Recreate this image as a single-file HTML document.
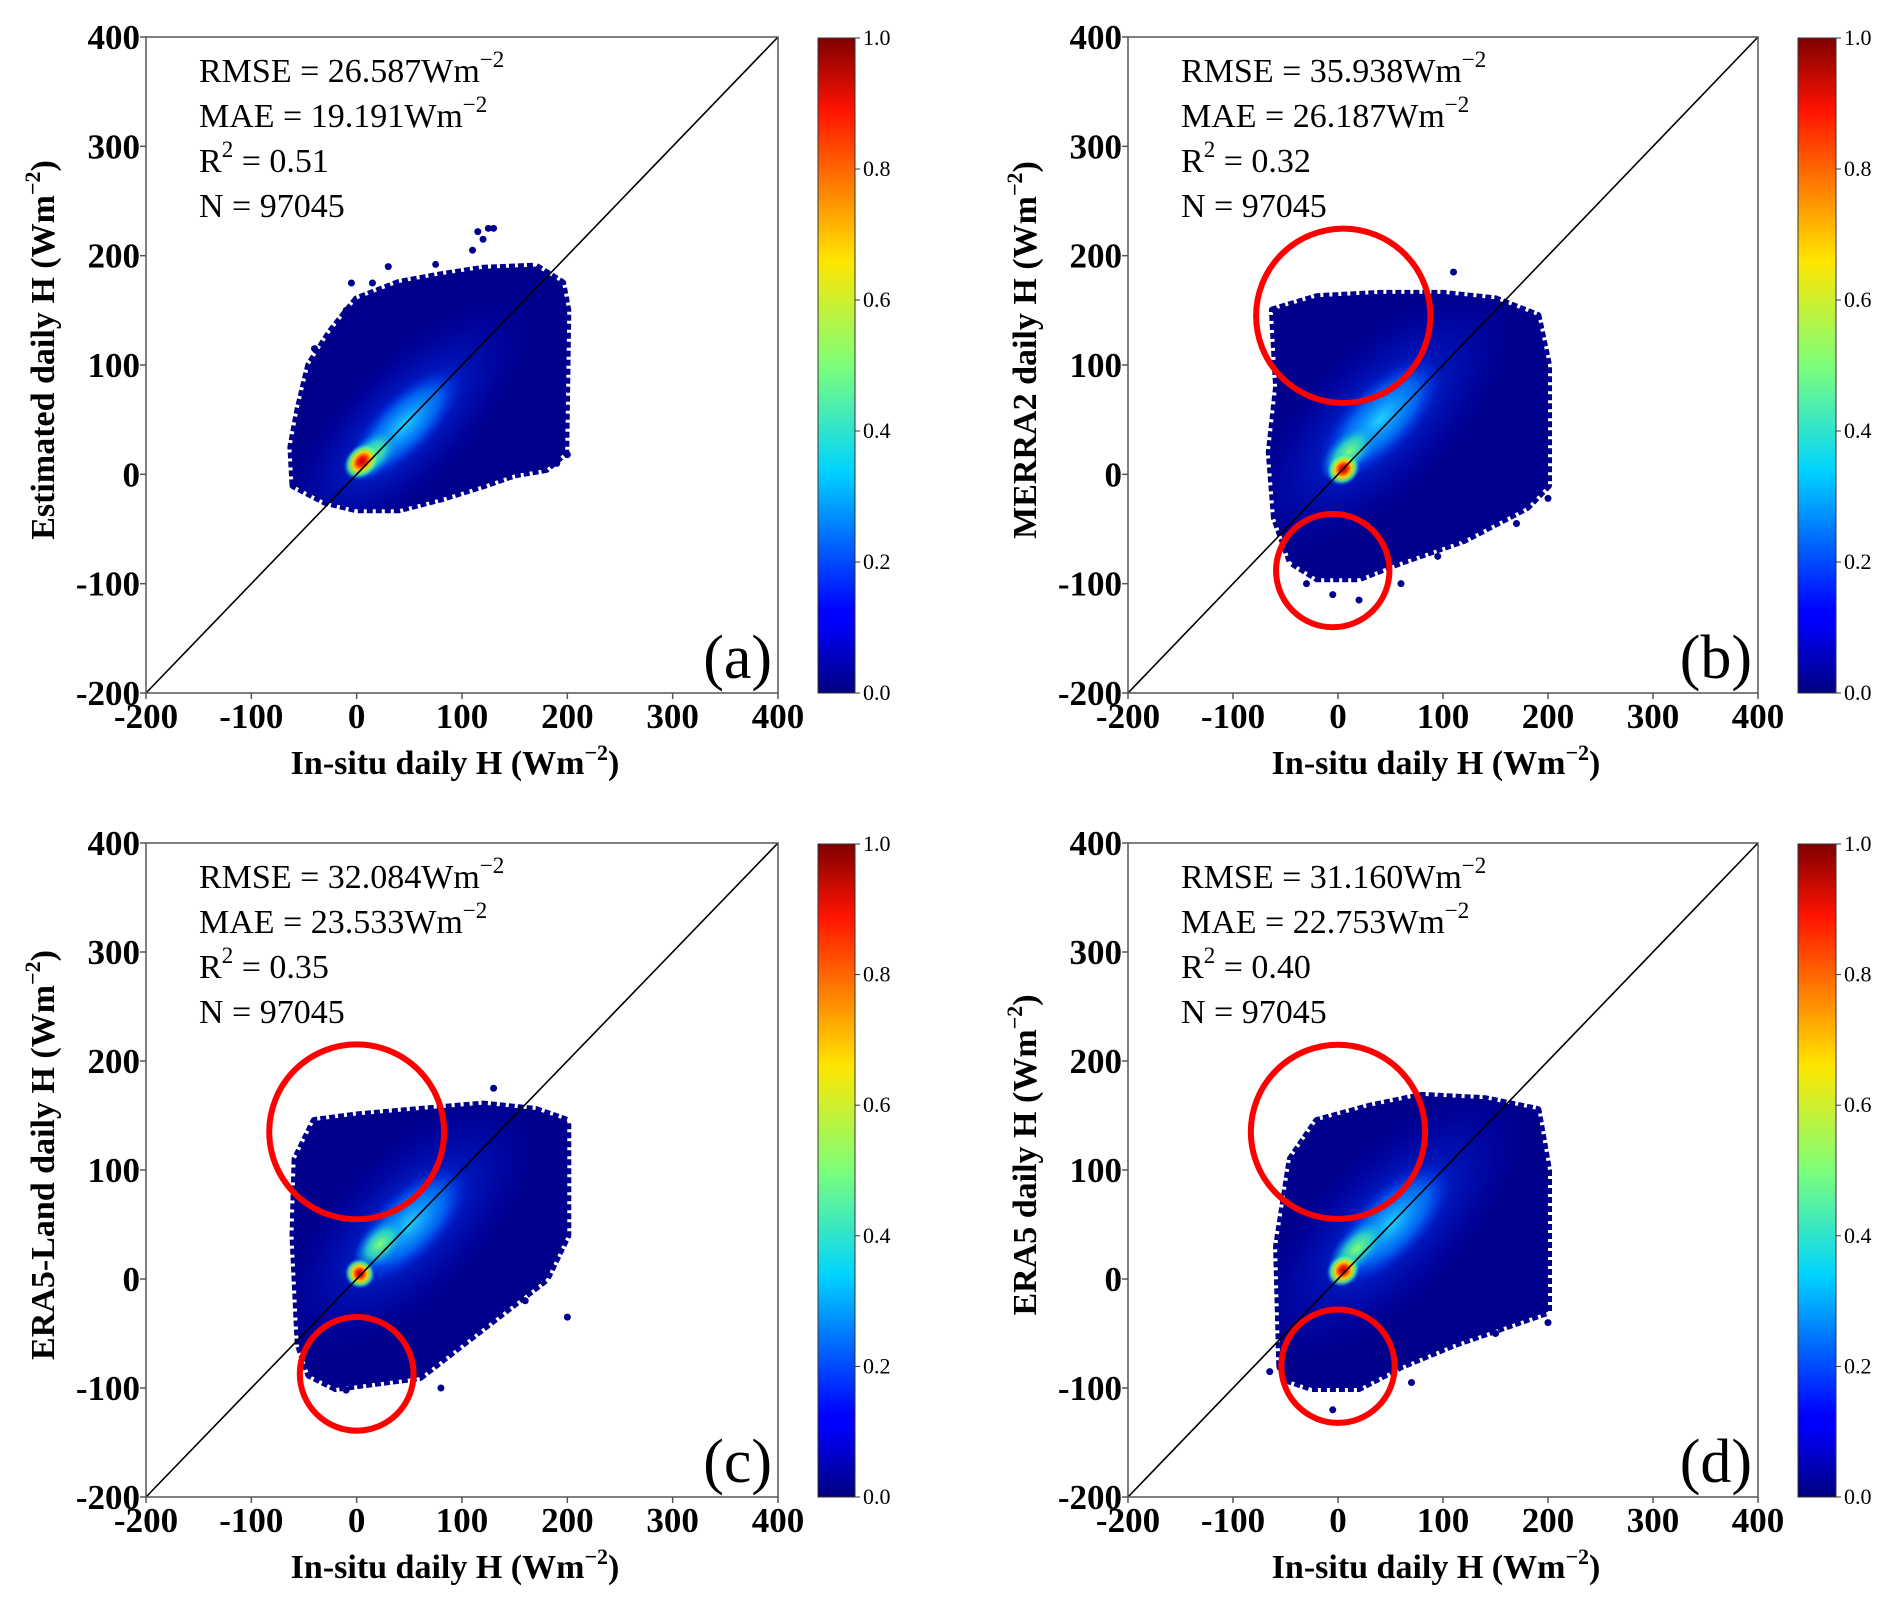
<!DOCTYPE html>
<html><head><meta charset="utf-8">
<style>
html,body{margin:0;padding:0;background:#fff;}
svg{display:block;}
.tick{font-family:"Liberation Serif",serif;font-weight:bold;font-size:35px;fill:#000;}
.title{font-family:"Liberation Serif",serif;font-weight:bold;font-size:34px;fill:#000;}
.stat{font-family:"Liberation Serif",serif;font-size:34px;fill:#000;}
.cb{font-family:"Liberation Serif",serif;font-size:22px;fill:#000;}
.plab{font-family:"Liberation Serif",serif;font-size:62px;fill:#000;}
</style></head>
<body>
<svg id="fig" width="1892" height="1610" viewBox="0 0 1892 1610" xmlns="http://www.w3.org/2000/svg">
<defs>
<linearGradient id="jet" x1="0" y1="1" x2="0" y2="0">
<stop offset="0" stop-color="#00007f"/><stop offset="0.11" stop-color="#0000ff"/>
<stop offset="0.125" stop-color="#0000ff"/><stop offset="0.34" stop-color="#00d4ff"/>
<stop offset="0.5" stop-color="#7dff7a"/><stop offset="0.66" stop-color="#ffe600"/>
<stop offset="0.89" stop-color="#ff1300"/><stop offset="1" stop-color="#7f0000"/>
</linearGradient>
<radialGradient id="glowBlue"><stop offset="0" stop-color="#0050ff" stop-opacity="0.9"/><stop offset="1" stop-color="#0000c8" stop-opacity="0"/></radialGradient>
<radialGradient id="glowCyan"><stop offset="0" stop-color="#20d0ff"/><stop offset="0.6" stop-color="#0080ff" stop-opacity="0.7"/><stop offset="1" stop-color="#0030ff" stop-opacity="0"/></radialGradient>
<radialGradient id="glowHot"><stop offset="0" stop-color="#b00000"/><stop offset="0.25" stop-color="#ff2000"/><stop offset="0.5" stop-color="#ffd000"/><stop offset="0.75" stop-color="#60ff90" stop-opacity="0.8"/><stop offset="1" stop-color="#00c0ff" stop-opacity="0"/></radialGradient>
<radialGradient id="glowGreen"><stop offset="0" stop-color="#80ff70"/><stop offset="0.5" stop-color="#30e0c0" stop-opacity="0.8"/><stop offset="1" stop-color="#0080ff" stop-opacity="0"/></radialGradient>
</defs>
</svg>
<script>
// ---- data ----
const xTicks = [-200,-100,0,100,200,300,400];
const yTicks = [-200,-100,0,100,200,300,400];
const cbTicks = ["0.0","0.2","0.4","0.6","0.8","1.0"];
const panelLabels = ["(a)","(b)","(c)","(d)"];
const yTitles = ["Estimated daily H","MERRA2 daily H","ERA5-Land daily H","ERA5 daily H"];
const rmseVals = ["26.587","35.938","32.084","31.160"];
const maeVals = ["19.191","26.187","23.533","22.753"];
const r2Vals = ["0.51","0.32","0.35","0.40"];
const nVals = ["97045","97045","97045","97045"];
// cloud outlines (x,y) in data units
const cloudA = [[-60,-10],[-62,25],[-55,60],[-45,100],[-25,130],[0,160],[40,175],[80,182],[120,188],[170,190],[195,175],[200,150],[198,20],[180,5],[150,0],[120,-10],[80,-22],[40,-32],[0,-32],[-30,-25]];
const cloudB = [[-60,-40],[-65,20],[-58,80],[-62,150],[-20,162],[40,165],[100,165],[150,160],[190,145],[200,100],[200,-10],[180,-30],[120,-60],[60,-80],[20,-95],[-20,-95],[-45,-80]];
const cloudC = [[-55,-60],[-60,40],[-58,110],[-40,145],[0,150],[60,155],[120,160],[170,155],[200,145],[200,40],[180,0],[140,-30],[100,-60],[60,-90],[20,-95],[-20,-100],[-45,-88]];
const cloudD = [[-55,-80],[-58,30],[-45,110],[-20,145],[30,158],[80,168],[140,165],[190,155],[200,100],[200,-30],[170,-40],[110,-60],[60,-80],[20,-100],[-25,-100],[-50,-92]];
// density centers [x,y,rx,ry] in data units
const hotA = [[5,12,14,10]], greenA = [[15,18,25,14]], cyanA = [[45,45,80,30]];
const hotB = [[5,5,12,10]], greenB = [[10,20,28,14]], cyanB = [[40,50,85,35]];
const hotC = [[3,5,10,10]], greenC = [[22,32,25,14]], cyanC = [[50,50,80,35]];
const hotD = [[5,8,12,10]], greenD = [[18,28,30,14]], cyanD = [[50,50,85,35]];
// outlier points
const outA = [[115,222],[125,225],[130,225],[120,215],[110,205],[30,190],[75,192],[-40,115],[-10,150],[190,10],[200,18],[185,60],[170,40],[-5,175],[15,175]];
const outB = [[110,185],[60,-100],[-5,-110],[20,-115],[-30,-100],[120,-60],[150,-40],[200,-22],[95,-75],[-60,150],[170,-45]];
const outC = [[80,-100],[30,-80],[200,-35],[130,175],[190,30],[160,-20],[-10,-102]];
const outD = [[-5,-120],[70,-95],[200,-40],[100,-60],[150,-50],[190,20],[-65,-85]];
// red circles [cx, cy, r] in data units (x-scale)
const circB = [[5,145,83],[-5,-88,54]];
const circC = [[0,135,83],[0,-87,54]];
const circD = [[0,135,83],[0,-80,54]];

const clouds=[cloudA,cloudB,cloudC,cloudD];
const hots=[hotA,hotB,hotC,hotD], greens=[greenA,greenB,greenC,greenD], cyans=[cyanA,cyanB,cyanC,cyanD];
const outs=[outA,outB,outC,outD];
const circs=[[],circB,circC,circD];

const NS="http://www.w3.org/2000/svg";
const svg=document.getElementById('fig');
function mk(tag,attrs,parent){const e=document.createElementNS(NS,tag);for(const k in attrs)e.setAttribute(k,attrs[k]);(parent||svg).appendChild(e);return e;}

const panels=[{l:146,r:778,t:37,b:693,cl:818,cr:855},{l:1128,r:1758,t:37,b:693,cl:1798,cr:1836},
{l:146,r:778,t:843,b:1497,cl:818,cr:855},{l:1128,r:1758,t:843,b:1497,cl:1798,cr:1836}];

panels.forEach((p,i)=>{
  const g=mk('g',{});
  
  
  const sx=v=>p.l+(v+200)/600*(p.r-p.l);
  const sy=v=>p.b-(v+200)/600*(p.b-p.t);
  const kx=(p.r-p.l)/600, ky=(p.b-p.t)/600;
  const clip='clip'+i;
  const cp=mk('clipPath',{id:clip},g);
  const pts=clouds[i].map(d=>sx(d[0]).toFixed(1)+','+sy(d[1]).toFixed(1)).join(' ');
  mk('polygon',{points:pts},cp);
  const cloud=mk('polygon',{points:pts,fill:'#00008c',stroke:'#00008c','stroke-width':8,'stroke-linejoin':'round','stroke-dasharray':'6 3'},g);
  
  
  const inner=mk('g',{'clip-path':'url(#'+clip+')'},g);
  const ell=(arr,fill,sc)=>arr.forEach(d=>{
    const e=mk('ellipse',{cx:sx(d[0]),cy:sy(d[1]),rx:d[2]*kx*sc,ry:d[3]*ky*sc,fill:fill,transform:'rotate(-45 '+sx(d[0])+' '+sy(d[1])+')'},inner);
    
    
  });
  ell(cyans[i],'url(#glowBlue)',2.0);
  ell(cyans[i],'url(#glowCyan)',0.9);
  ell(greens[i],'url(#glowGreen)',1.2);
  ell(hots[i],'url(#glowHot)',1.4);
  outs[i].forEach(d=>{
    const c=mk('circle',{cx:sx(d[0]),cy:sy(d[1]),r:3.5,fill:'#00008c'},g);
    
    
  });
  const ln=mk('line',{x1:sx(-200),y1:sy(-200),x2:sx(400),y2:sy(400),stroke:'#000','stroke-width':1.6},g);
  
  
  const fr=mk('rect',{x:p.l,y:p.t,width:p.r-p.l,height:p.b-p.t,fill:'none',stroke:'#555','stroke-width':1.5},g);
  
  
  xTicks.forEach(v=>{
    mk('line',{x1:sx(v),x2:sx(v),y1:p.b,y2:p.b+6,stroke:'#555','stroke-width':1.5},g);
    const t=mk('text',{x:sx(v),y:p.b+35,'text-anchor':'middle',class:'tick'},g);
    t.textContent=v;
    
    
  });
  yTicks.forEach(v=>{
    mk('line',{x1:p.l-6,x2:p.l,y1:sy(v),y2:sy(v),stroke:'#555','stroke-width':1.5},g);
    const t=mk('text',{x:p.l-6,y:sy(v)+12,'text-anchor':'end',class:'tick'},g);
    t.textContent=v;
    
    
  });
  const xt=mk('text',{x:(p.l+p.r)/2-7,y:p.b+81,'text-anchor':'middle',class:'title'},g);
  xt.innerHTML='In-situ daily H (Wm<tspan dy="-14" font-size="22">−2</tspan><tspan dy="14">)</tspan>';
  
  
  const cx=p.l-92, cy=(p.t+p.b)/2-15;
  const yt=mk('text',{x:cx,y:cy,'text-anchor':'middle',class:'title',transform:'rotate(-90 '+cx+' '+cy+')'},g);
  yt.innerHTML=yTitles[i]+' (Wm<tspan dy="-14" font-size="22">−2</tspan><tspan dy="14">)</tspan>';
  
  
  const lines=['RMSE = '+rmseVals[i]+'Wm<tspan dy="-15" font-size="23">−2</tspan>',
    'MAE = '+maeVals[i]+'Wm<tspan dy="-15" font-size="23">−2</tspan>',
    'R<tspan dy="-15" font-size="23">2</tspan><tspan dy="15"> = '+r2Vals[i]+'</tspan>',
    'N = '+nVals[i]];
  const names=['rmse-text','mae-text','r2-text','n-text'];
  lines.forEach((s,j)=>{
    const t=mk('text',{x:p.l+53,y:p.t+45+j*45,class:'stat'},g);
    t.innerHTML=s;
    
    
  });
  const pl=mk('text',{x:p.r-6,y:p.b-15,'text-anchor':'end',class:'plab'},g);
  pl.textContent=panelLabels[i];
  
  
  circs[i].forEach(c=>{
    const e=mk('circle',{cx:sx(c[0]),cy:sy(c[1]),r:c[2]*kx,fill:'none',stroke:'#ff0000','stroke-width':6},g);
    
    
  });
  const cb=mk('rect',{x:p.cl,y:p.t+1,width:p.cr-p.cl,height:p.b-p.t-1,fill:'url(#jet)',stroke:'#333','stroke-width':1},g);
  
  
  cbTicks.forEach((s,j)=>{
    const y=p.b-j/5*(p.b-p.t-1);
    mk('line',{x1:p.cr,x2:p.cr+5,y1:y,y2:y,stroke:'#333','stroke-width':1},g);
    const t=mk('text',{x:p.cr+8,y:y+7,class:'cb'},g);
    t.textContent=s;
    
    
  });
});
</script>
</body></html>
